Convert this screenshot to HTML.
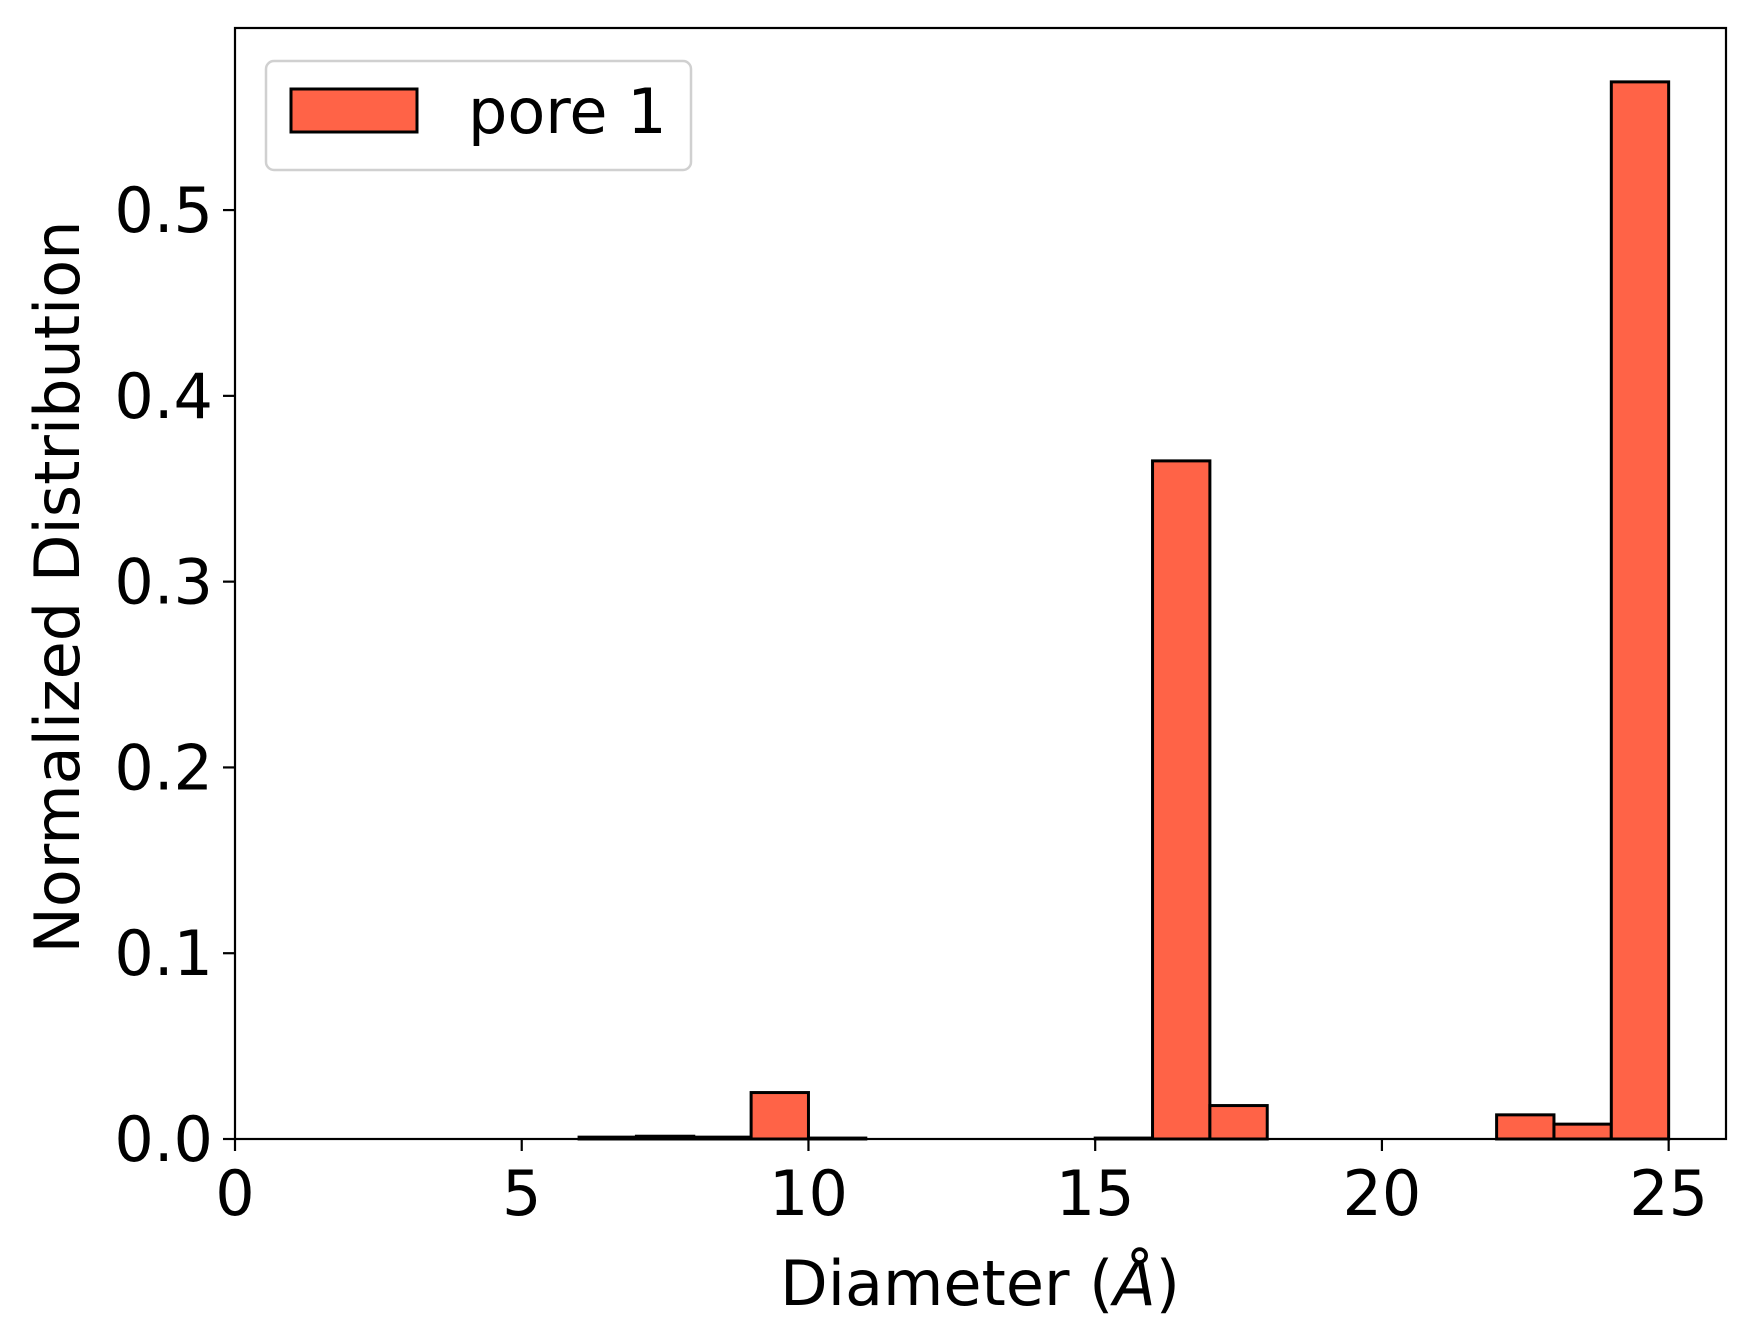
<!DOCTYPE html>
<html><head><meta charset="utf-8"><style>
html,body{margin:0;padding:0;background:#fff;}
svg{display:block;font-family:"DejaVu Sans","Liberation Sans",sans-serif;}
</style></head><body>
<svg id="chart" width="1753" height="1344" viewBox="0 0 1753 1344">
<g id="bars"></g>
<g id="axes"></g>
</svg>
<script>
const binStarts = [6,7,8,9,10,11,12,13,14,15,16,17,18,19,20,21,22,23,24];
const binValues = [0.001,0.0015,0.001,0.025,0.0005,0,0,0,0,0.0005,0.365,0.018,0,0,0,0,0.013,0.008,0.569];
const binWidth = 1;
const xTicks = [0,5,10,15,20,25];
const yTicks = [0,0.1,0.2,0.3,0.4,0.5];
const yTickLabels = ["0.0","0.1","0.2","0.3","0.4","0.5"];

const L=235,R=1726,T=28,B=1139;
const xMin=0,xMax=26,yMin=0,yMax=0.598;
const X=v=>L+(v-xMin)/(xMax-xMin)*(R-L);
const Y=v=>B-(v-yMin)/(yMax-yMin)*(B-T);
const NS="http://www.w3.org/2000/svg";
function mk(tag,attrs,parent){const e=document.createElementNS(NS,tag);for(const k in attrs)e.setAttribute(k,attrs[k]);parent.appendChild(e);return e;}
const bars=document.getElementById('bars'),axes=document.getElementById('axes');

binStarts.forEach((s,i)=>{
  const v=binValues[i];
  const r=mk('rect',{x:X(s),y:Y(v),width:X(s+binWidth)-X(s),height:Y(0)-Y(v),fill:'#ff6347',stroke:'#000','stroke-width':3},bars);
  
  
});

const frame=mk('rect',{x:L,y:T,width:R-L,height:B-T,fill:'none',stroke:'#000','stroke-width':2.2},axes);



xTicks.forEach(t=>{
  const x=X(t);
  mk('line',{x1:x,x2:x,y1:B,y2:B+12,stroke:'#000','stroke-width':2.2},axes);
  const tx=mk('text',{x:x,y:1215,'font-size':62,'text-anchor':'middle',fill:'#000'},axes);
  tx.textContent=t;
  
  
});
yTicks.forEach((t,i)=>{
  const y=Y(t);
  mk('line',{x1:L-12,x2:L,y1:y,y2:y,stroke:'#000','stroke-width':2.2},axes);
  const tx=mk('text',{x:L-22,y:y+22,'font-size':62,'text-anchor':'end',fill:'#000'},axes);
  tx.textContent=yTickLabels[i];
  
  
});
</script>
<svg style="position:absolute;left:0;top:0" width="1753" height="1344">
<text x="980" y="1305" font-size="62" text-anchor="middle" font-family="DejaVu Sans, Liberation Sans, sans-serif">Diameter (<tspan font-style="italic">Å</tspan>)</text>
<text transform="translate(79,587) rotate(-90)" font-size="62" text-anchor="middle" font-family="DejaVu Sans, Liberation Sans, sans-serif">Normalized Distribution</text>
<g>
<rect x="266" y="61" width="425" height="109" rx="8" fill="#fff" fill-opacity="0.8" stroke="#d0d0d0" stroke-width="2.5"/>
<rect x="291" y="89" width="126" height="43" fill="#ff6347" stroke="#000" stroke-width="3"/>
<text x="468" y="133" font-size="62" font-family="DejaVu Sans, Liberation Sans, sans-serif">pore 1</text>
</g>
</svg>
</body></html>
